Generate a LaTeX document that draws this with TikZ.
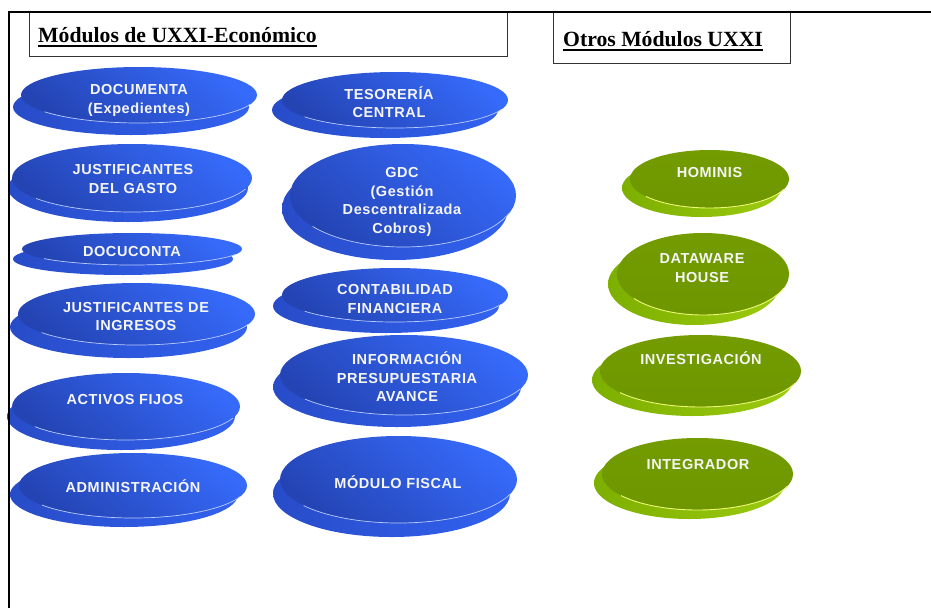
\documentclass[tikz,border=0pt]{standalone}
\usepackage{fontspec}
\usetikzlibrary{shapes.geometric}
\setmainfont{Liberation Serif}
\newfontfamily\modfont[LetterSpace=4]{Liberation Sans}
\definecolor{bluelight}{RGB}{54,106,250}
\definecolor{bluedark}{RGB}{36,68,180}
\definecolor{bluesidec}{RGB}{50,98,240}
\definecolor{bluesidedark}{RGB}{40,76,200}
\definecolor{bluehl}{RGB}{185,205,255}
\definecolor{greentopc}{RGB}{115,156,0}
\definecolor{greentopdark}{RGB}{110,150,0}
\definecolor{greensidec}{RGB}{155,202,15}
\definecolor{greensidedark}{RGB}{125,175,0}
\definecolor{greenhl}{RGB}{236,250,120}
\definecolor{modtextc}{RGB}{246,246,246}
\tikzset{
  bluetop/.style={shape=ellipse, inner sep=0pt, top color=bluelight, bottom color=bluedark, shading angle=-40},
  blueside/.style={shape=ellipse, inner sep=0pt, left color=bluesidedark, right color=bluesidec},
  bluehlline/.style={draw=bluehl, line width=0.7pt},
  greentop/.style={shape=ellipse, inner sep=0pt, top color=greentopc, bottom color=greentopdark},
  greenside/.style={shape=ellipse, inner sep=0pt, left color=greensidedark, right color=greensidec},
  greenhlline/.style={draw=greenhl, line width=0.9pt},
  modlabel/.style={text=modtextc, align=center, inner sep=0pt, font=\modfont\bfseries\fontsize{14.5}{18.5}\selectfont},
  titlebox/.style={draw=black!80, line width=1pt, inner sep=0pt, anchor=north west},
  titletext/.style={font=\bfseries\fontsize{21.7}{26}\selectfont, inner sep=0pt, anchor=base west},
  underl/.style={line width=2pt},
  framel/.style={line width=2pt},
}
% name, kind, cx, cy, rx, ry, dx, dy
\newcommand\disco[8]{%
  \node[#2side, minimum width={2*(#5)}, minimum height={2*(#6)}] (#1-side) at ({#3+(#7)},{#4+(#8)}) {};
  \node[#2top, minimum width={2*(#5)}, minimum height={2*(#6)}] (#1) at (#3,#4) {};
  \begin{scope}
    \clip ({#3-0.8*(#5)},{#4+0.35*(#6)}) rectangle ({#3+(#5)+2},{#4+(#6)+2});
    \draw[#2hlline] (#1.center) ellipse [x radius={#5}, y radius={#6}];
  \end{scope}
}
\begin{document}
\begin{tikzpicture}[x=1pt,y=-1pt]
\useasboundingbox (0,0) rectangle (931,608);
% title boxes
\node[titlebox, minimum width=478, minimum height=44] (box1) at (29,12) {};
\node[titletext] (title1) at (38,42.7) {Módulos de UXXI-Económico};
\draw[underl] ([yshift=-3pt]title1.base west) -- ([yshift=-3pt]title1.base east);
\node[titlebox, minimum width=237, minimum height=51] (box2) at (553,12) {};
\node[titletext] (title2) at (563,46.7) {Otros Módulos UXXI};
\draw[underl] ([yshift=-3pt]title2.base west) -- ([yshift=-3pt]title2.base east);
% left column
\disco{documenta}{blue}{139}{95}{118}{28}{-8}{12}
\node[modlabel] (documenta-t) at (139,100.5) {DOCUMENTA\\(Expedientes)};
\disco{justgasto}{blue}{132}{178}{120}{34}{-4}{10}
\node[modlabel] (justgasto-t) at (133,179) {JUSTIFICANTES\\DEL GASTO};
\disco{docuconta}{blue}{132}{249}{110}{16}{-9}{10}
\node[modlabel] (docuconta-t) at (132,252) {DOCUCONTA};
\disco{justing}{blue}{136.5}{314}{118.5}{31}{-8}{13}
\node[modlabel] (justing-t) at (136,316.5) {JUSTIFICANTES DE\\INGRESOS};
\disco{activos}{blue}{126}{406.5}{114}{33.5}{-5}{10}
\node[modlabel] (activos-t) at (125,400) {ACTIVOS FIJOS};
\disco{admin}{blue}{133}{485.5}{114}{32.5}{-9}{9}
\node[modlabel] (admin-t) at (133,486.5) {ADMINISTRACIÓN};
% middle column
\disco{tesoreria}{blue}{395}{100}{113}{28}{-10}{10}
\node[modlabel] (tesoreria-t) at (389,102) {TESORERÍA\\CENTRAL};
\disco{gdc}{blue}{403}{195.5}{113}{51.5}{-8}{13}
\node[modlabel] (gdc-t) at (402,202) {GDC\\(Gestión\\Descentralizada\\Cobros)};
\disco{contab}{blue}{395}{295}{113}{27}{-9}{11}
\node[modlabel] (contab-t) at (395,299) {CONTABILIDAD\\FINANCIERA};
\disco{info}{blue}{404}{375}{124}{40}{-7}{12}
\node[modlabel] (info-t) at (407,377) {INFORMACIÓN\\PRESUPUESTARIA\\AVANCE};
\disco{fiscal}{blue}{398.5}{479.5}{118.5}{43.5}{-7}{14}
\node[modlabel] (fiscal-t) at (398,482.5) {MÓDULO FISCAL};
% right column
\disco{hominis}{green}{709.5}{179}{79.5}{29}{-8}{9}
\node[modlabel] (hominis-t) at (709.5,173) {HOMINIS};
\disco{dataware}{green}{703}{274}{86}{41}{-9}{10}
\node[modlabel] (dataware-t) at (702,268) {DATAWARE\\HOUSE};
\disco{investig}{green}{700.5}{371}{100.5}{36}{-8}{9}
\node[modlabel] (investig-t) at (701,358) {INVESTIGACIÓN};
\disco{integr}{green}{697.5}{474}{95.5}{36}{-8}{9}
\node[modlabel] (integr-t) at (698,465) {INTEGRADOR};
% frame
\coordinate (frameTR) at (931,12);
\coordinate (frameTL) at (9,12);
\coordinate (frameBL) at (9,608);
\draw[framel] (frameTR) -- (frameTL) -- (frameBL);
\end{tikzpicture}
\end{document}
